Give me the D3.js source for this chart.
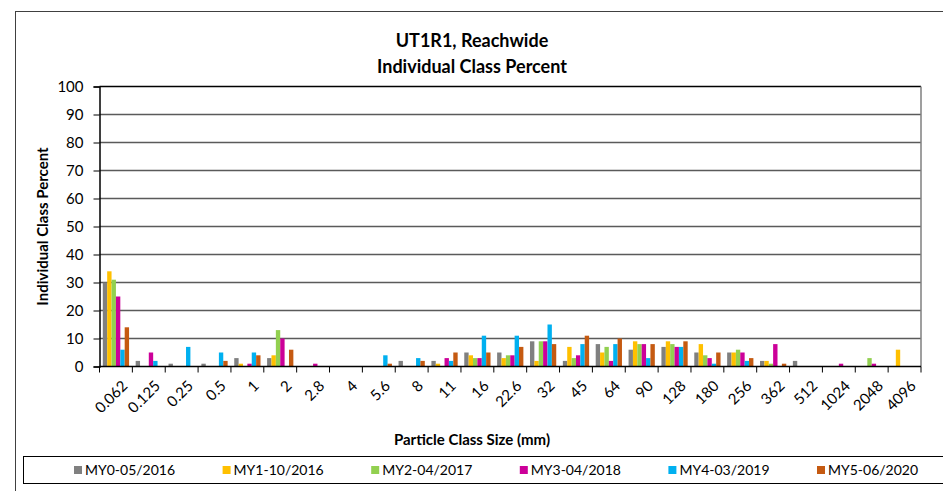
<!DOCTYPE html>
<html>
<head>
<meta charset="utf-8">
<script src="https://cdn.jsdelivr.net/npm/d3@7"></script>
<style>
  body { margin: 0; background: #fff; }
  svg { display: block; font-family: Lato, "Open Sans", sans-serif; }
</style>
</head>
<body>
<svg id="chart" width="943" height="491"></svg>
<script>
// particle size classes (mm)
const sizeClasses = ['0.062', '0.125', '0.25', '0.5', '1', '2', '2.8', '4', '5.6', '8', '11', '16', '22.6',
    '32', '45', '64', '90', '128', '180', '256', '362', '512', '1024', '2048', '4096'];

const seriesNames = ['MY0-05/2016', 'MY1-10/2016', 'MY2-04/2017', 'MY3-04/2018', 'MY4-03/2019', 'MY5-06/2020'];
const seriesColors = ['#808080', '#FFC000', '#92D050', '#CC0099', '#00B0F0', '#C55A11'];

const my0 = [30, 2, 1, 1, 3, 3, 0, 0, 0, 2, 2, 5, 5, 9, 2, 8, 6, 7, 5, 5, 2, 2, 0, 0, 0];
const my1 = [34, 0, 0, 0, 1, 4, 0, 0, 0, 0, 1, 4, 3, 2, 7, 5, 9, 9, 8, 5, 2, 0, 0, 0, 6];
const my2 = [31, 0, 0, 0, 0, 13, 0, 0, 0, 0, 0, 3, 4, 9, 3, 7, 8, 8, 4, 6, 1, 0, 0, 3, 0];
const my3 = [25, 5, 0, 0, 1, 10, 1, 0, 0, 0, 3, 3, 4, 9, 4, 2, 8, 7, 3, 5, 8, 0, 1, 1, 0];
const my4 = [6, 2, 7, 5, 5, 0, 0, 0, 4, 3, 2, 11, 11, 15, 8, 8, 3, 7, 1, 2, 0, 0, 0, 0, 0];
const my5 = [14, 0, 0, 2, 4, 6, 0, 0, 1, 2, 5, 5, 7, 8, 11, 10, 8, 9, 5, 3, 1, 0, 0, 0, 0];
const seriesValues = [my0, my1, my2, my3, my4, my5];

const yTicks = [0, 10, 20, 30, 40, 50, 60, 70, 80, 90, 100];

const svg = d3.select('#chart');
const plot = { left: 99.5, right: 921, top: 86.5, bottom: 366.5 };

// outer chart border (runs off right and bottom)
svg.append('rect')
    .attr('x', 15.5).attr('y', 11.5)
    .attr('width', 1000).attr('height', 600)
    .attr('fill', 'none').attr('stroke', '#404040').attr('stroke-width', 1);

const x0 = d3.scaleBand().domain(sizeClasses).range([plot.left, plot.right]);
const x1 = d3.scaleBand().domain(seriesNames).range([3.3, x0.bandwidth() - 3.3]);
const y = d3.scaleLinear().domain([0, 100]).range([plot.bottom, plot.top]);

// gridlines
svg.append('g')
    .selectAll('line')
    .data(yTicks.slice(1))
    .join('line')
    .attr('x1', plot.left).attr('x2', plot.right)
    .attr('y1', d => y(d)).attr('y2', d => y(d))
    .attr('stroke', d => d === 100 ? '#000' : '#5a5a5a')
    .attr('stroke-width', 1.5);

// right frame
svg.append('line')
    .attr('x1', plot.right).attr('x2', plot.right)
    .attr('y1', plot.top).attr('y2', plot.bottom)
    .attr('stroke', '#7f7f7f').attr('stroke-width', 1.5);

// bars
const groups = svg.append('g')
    .selectAll('g')
    .data(sizeClasses)
    .join('g')
    .attr('transform', d => `translate(${x0(d)},0)`);

groups.selectAll('rect')
    .data((d, i) => seriesNames.map((s, k) => ({ s: s, v: seriesValues[k][i], c: seriesColors[k] })))
    .join('rect')
    .attr('x', d => x1(d.s))
    .attr('width', x1.bandwidth())
    .attr('y', d => y(d.v))
    .attr('height', d => y(0) - y(d.v))
    .attr('fill', d => d.c);

// y axis
const yAxis = svg.append('g')
    .attr('transform', `translate(${plot.left},0)`)
    .call(d3.axisLeft(y).tickValues(yTicks).tickSize(6).tickPadding(10));
yAxis.select('.domain').attr('stroke', '#000').attr('stroke-width', 1.5);
yAxis.selectAll('.tick line').attr('stroke', '#000').attr('stroke-width', 1);
yAxis.selectAll('text').attr('font-size', 15).attr('fill', '#000').attr('font-family', 'Lato, sans-serif');

// x axis baseline and boundary ticks
svg.append('line')
    .attr('x1', plot.left).attr('x2', plot.right)
    .attr('y1', plot.bottom).attr('y2', plot.bottom)
    .attr('stroke', '#000').attr('stroke-width', 1.5);
svg.append('g')
    .selectAll('line')
    .data(sizeClasses.map(c => x0(c)).concat([plot.right]))
    .join('line')
    .attr('x1', d => d).attr('x2', d => d)
    .attr('y1', plot.bottom).attr('y2', plot.bottom + 6)
    .attr('stroke', '#000').attr('stroke-width', 1);

// x tick labels, rotated
svg.append('g')
    .selectAll('text')
    .data(sizeClasses)
    .join('text')
    .attr('transform', d => `translate(${x0(d) + x0.bandwidth() / 2 + 5},${plot.bottom + 13}) rotate(-45)`)
    .attr('text-anchor', 'end')
    .attr('dy', '0.7em')
    .attr('font-size', 15)
    .text(d => d);

// titles
svg.append('text')
    .attr('x', 472).attr('y', 47)
    .attr('text-anchor', 'middle')
    .attr('font-size', 18).attr('font-weight', 'bold')
    .text('UT1R1, Reachwide');
svg.append('text')
    .attr('x', 472).attr('y', 73)
    .attr('text-anchor', 'middle')
    .attr('font-size', 18).attr('font-weight', 'bold')
    .text('Individual Class Percent');

svg.append('text')
    .attr('transform', `translate(48,${(plot.top + plot.bottom) / 2}) rotate(-90)`)
    .attr('text-anchor', 'middle')
    .attr('font-size', 15).attr('font-weight', 'bold')
    .text('Individual Class Percent');

svg.append('text')
    .attr('x', 472).attr('y', 445)
    .attr('text-anchor', 'middle')
    .attr('font-size', 15).attr('font-weight', 'bold')
    .text('Particle Class Size (mm)');

// legend
svg.append('rect')
    .attr('x', 23.5).attr('y', 456.5)
    .attr('width', 1000).attr('height', 27)
    .attr('fill', 'none').attr('stroke', '#000').attr('stroke-width', 1);

const legendX = d3.scalePoint().domain(seriesNames).range([74, 817]);
const legendItems = svg.append('g')
    .selectAll('g')
    .data(seriesNames)
    .join('g')
    .attr('transform', d => `translate(${legendX(d)},470)`);
legendItems.append('rect')
    .attr('x', 0).attr('y', -4)
    .attr('width', 8).attr('height', 8)
    .attr('fill', (d, i) => seriesColors[i]);
legendItems.append('text')
    .attr('x', 11).attr('y', 0)
    .attr('dy', '0.35em')
    .attr('font-size', 14)
    .text(d => d);
</script>
</body>
</html>
